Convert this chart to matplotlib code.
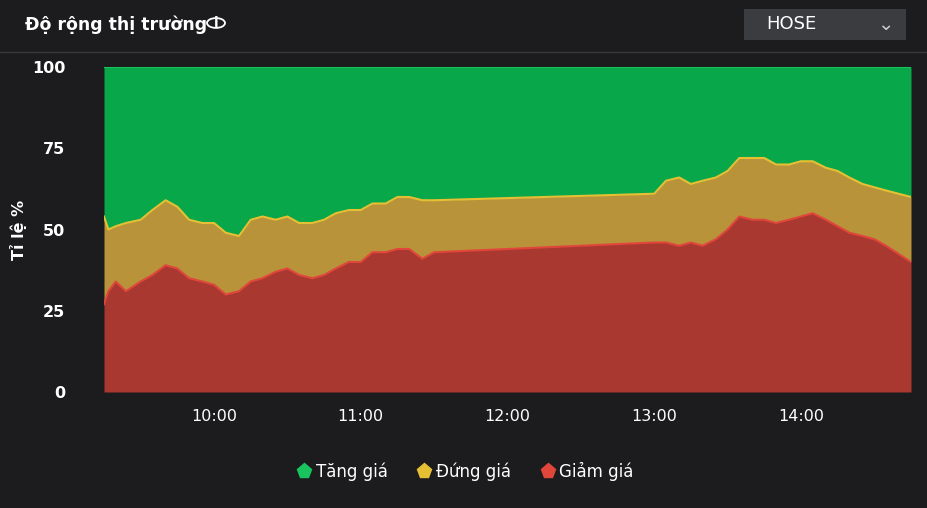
import matplotlib.pyplot as plt
from matplotlib.lines import Line2D
from matplotlib.patches import Circle

# time as decimal hours, lunch break 11:30-13:00 has no data
times = [9.25, 9.28, 9.33, 9.4, 9.5, 9.58, 9.67, 9.75, 9.83, 9.92, 10.0, 10.08, 10.17, 10.25, 10.33,
         10.42, 10.5, 10.58, 10.67, 10.75, 10.83, 10.92, 11.0, 11.08, 11.17, 11.25, 11.33, 11.42, 11.5,
         13.0, 13.08, 13.17, 13.25, 13.33, 13.42, 13.5, 13.58, 13.67, 13.75, 13.83, 13.92, 14.0, 14.08,
         14.17, 14.25, 14.33, 14.42, 14.5, 14.58, 14.75]
giam = [27, 31, 34, 31, 34, 36, 39, 38, 35, 34, 33, 30, 31, 34, 35,
        37, 38, 36, 35, 36, 38, 40, 40, 43, 43, 44, 44, 41, 43,
        46, 46, 45, 46, 45, 47, 50, 54, 53, 53, 52, 53, 54, 55,
        53, 51, 49, 48, 47, 45, 40]
dung_top = [54, 50, 51, 52, 53, 56, 59, 57, 53, 52, 52, 49, 48, 53, 54,
            53, 54, 52, 52, 53, 55, 56, 56, 58, 58, 60, 60, 59, 59,
            61, 65, 66, 64, 65, 66, 68, 72, 72, 72, 70, 70, 71, 71,
            69, 68, 66, 64, 63, 62, 60]
tick_hours = [10, 11, 12, 13, 14]
tick_labels = ['10:00', '11:00', '12:00', '13:00', '14:00']

bg = '#1c1c1e'
green, yellow, red = '#08a74a', '#b8933a', '#a83830'

fig = plt.figure(figsize=(9.28, 5.08), dpi=100, facecolor=bg)
ax = fig.add_axes([104/928, 1-392/508, 807/928, 325/508], facecolor=bg)

ax.fill_between(times, dung_top, 100, color=green, lw=0)
ax.fill_between(times, giam, dung_top, color=yellow, lw=0)
ax.fill_between(times, 0, giam, color=red, lw=0)
ax.plot(times, [100]*len(times), color='#19c45e', lw=1.5)
ax.plot(times, dung_top, color='#e6c034', lw=1.5)
ax.plot(times, giam, color='#e0463a', lw=1.5)

ax.set_xlim(9.25, 14.75)
ax.set_ylim(0, 100)
ax.set_yticks([0, 25, 50, 75, 100])
ax.set_xticks(tick_hours, tick_labels)
ax.tick_params(colors='white', labelsize=11.5, length=0, pad=12)
for lab in ax.get_yticklabels():
    lab.set_fontweight('bold')
ax.tick_params(axis='y', pad=28)
for s in ax.spines.values():
    s.set_visible(False)
ax.set_ylabel('Tỉ lệ %', color='white', fontsize=11.5, fontweight='bold', labelpad=0)
ax.yaxis.set_label_coords(-0.095, 0.5)

# header
fig.text(25/928, 1-25/508, 'Độ rộng thị trường', color='white', fontsize=12.5, fontweight='bold', va='center')
fig.patches.append(Circle((216/928, 1-23/508), 9/928, transform=fig.transFigure,
                          facecolor='none', edgecolor='white', lw=1.3))
fig.text(216/928, 1-23/508, 'i', color='white', fontsize=10, fontweight='bold', va='center', ha='center')
fig.add_artist(Line2D([0, 1], [1-52/508, 1-52/508], color='#3a3a3d', lw=1))
fig.patches.append(plt.Rectangle((744/928, 1-40/508), 162/928, 31/508, transform=fig.transFigure,
                                 facecolor='#3b3c40', edgecolor='none'))
fig.text(766/928, 1-24/508, 'HOSE', color='white', fontsize=13, va='center')
fig.text(885/928, 1-24/508, '⌄', color='#cccccc', fontsize=14, va='center', ha='center')

handles = [Line2D([], [], marker='p', ls='', color=c, markersize=11)
           for c in ['#19c45e', '#e6c034', '#e0463a']]
fig.legend(handles, ['Tăng giá', 'Đứng giá', 'Giảm giá'], loc='center', bbox_to_anchor=(0.5, 1-471/508),
           ncol=3, frameon=False, labelcolor='white', fontsize=12, handletextpad=0.1,
           columnspacing=1.6, handlelength=1.2)

fig.savefig('out.png', dpi=100, facecolor=bg)
